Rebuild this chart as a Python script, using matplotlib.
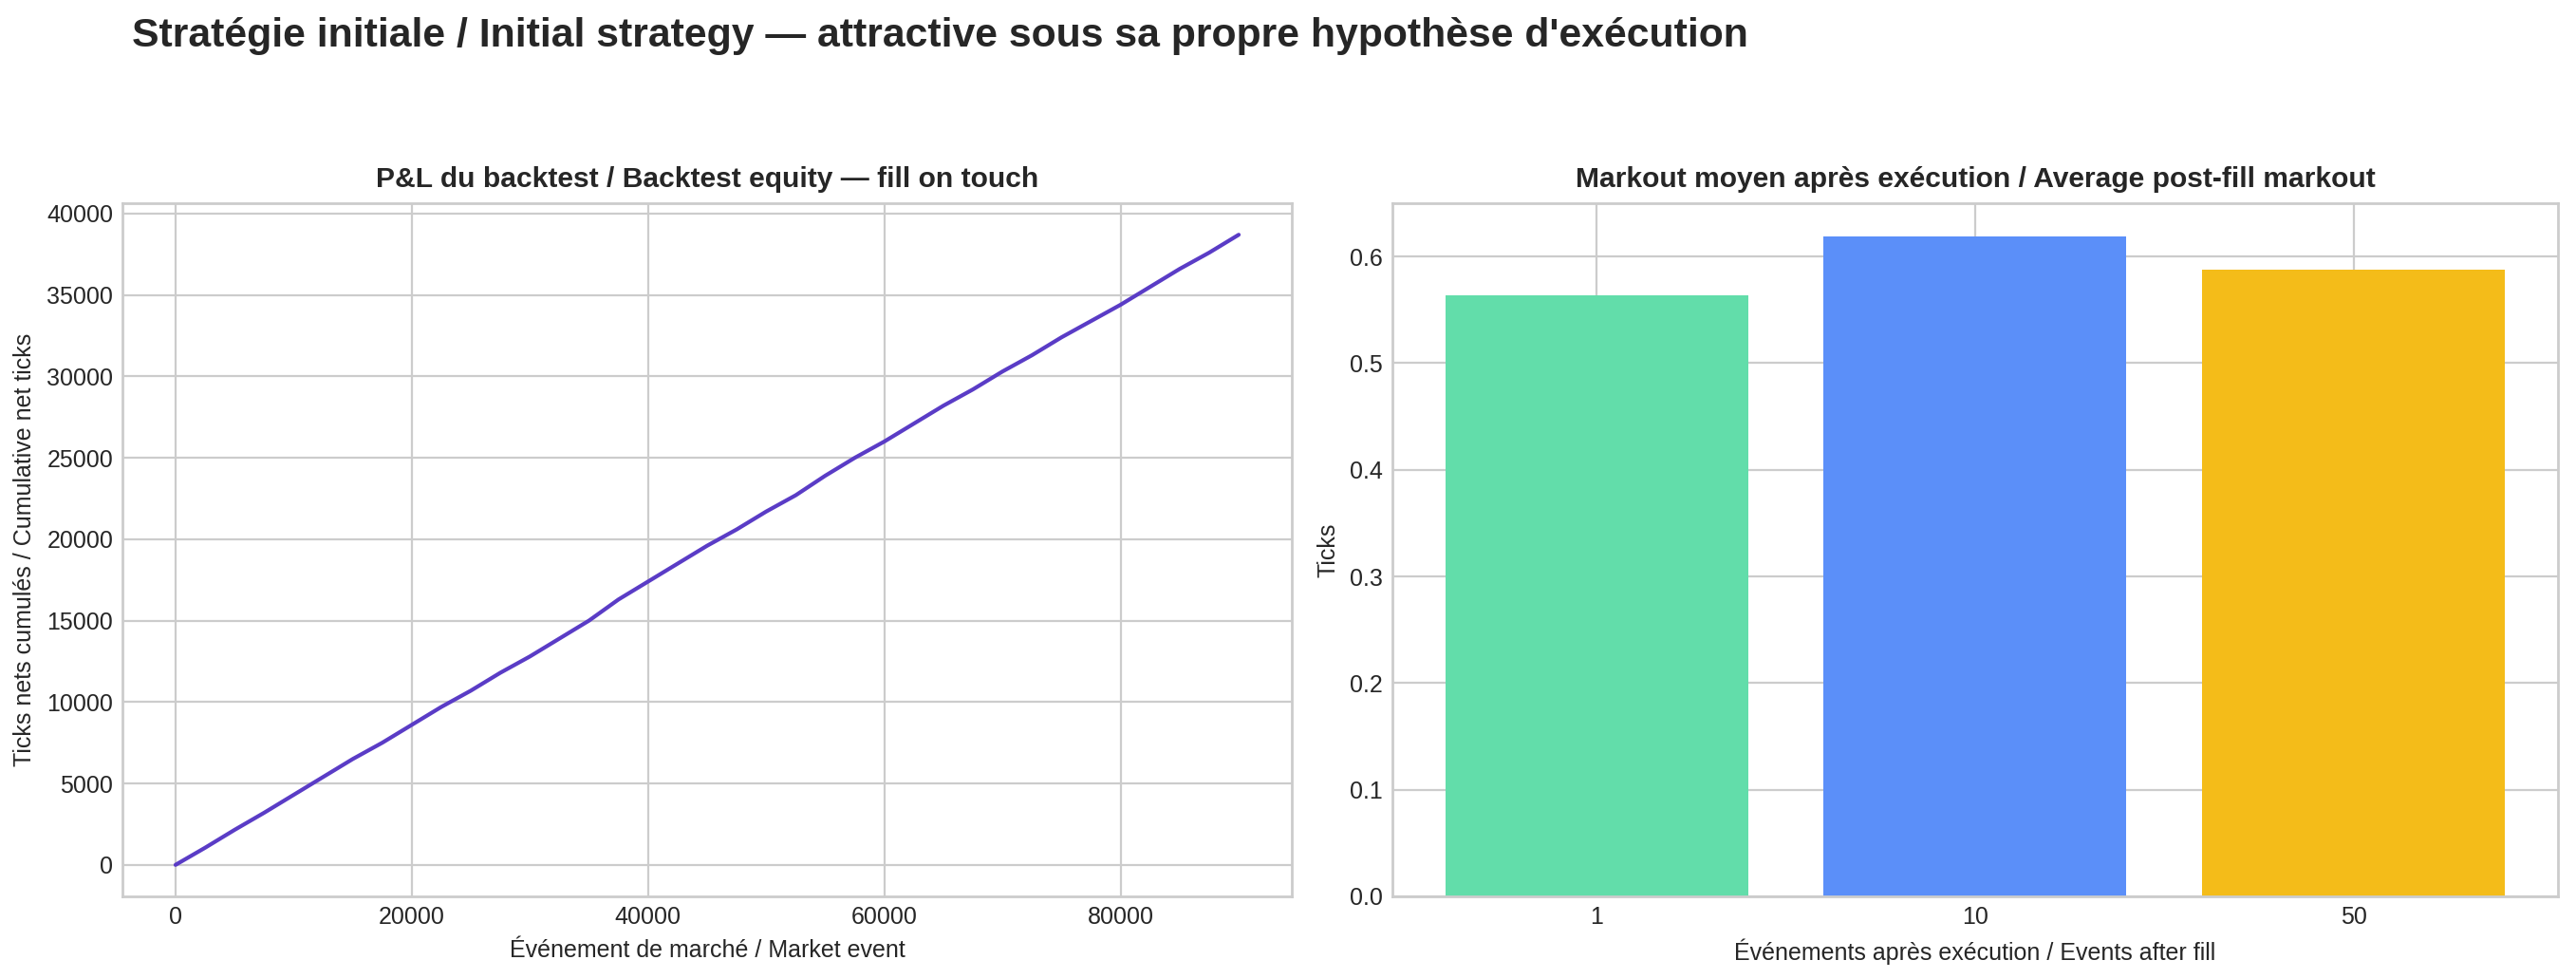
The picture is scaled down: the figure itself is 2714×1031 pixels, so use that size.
import matplotlib
matplotlib.use("Agg")
import matplotlib.pyplot as plt

plt.style.use("seaborn-v0_8-whitegrid")
plt.rcParams["font.family"] = ["Liberation Sans", "DejaVu Sans"]

# Backtest equity, every 2500 events
events = [0, 2500, 5000, 7500, 10000, 12500, 15000, 17500, 20000, 22500,
          25000, 27500, 30000, 32500, 35000, 37500, 40000, 42500, 45000,
          47500, 50000, 52500, 55000, 57500, 60000, 62500, 65000, 67500,
          70000, 72500, 75000, 77500, 80000, 82500, 85000, 87500, 90000]
cum_ticks = [0, 1050, 2150, 3200, 4300, 5400, 6500, 7500, 8600, 9700,
             10700, 11800, 12800, 13900, 15000, 16300, 17400, 18500, 19600,
             20600, 21700, 22700, 23900, 25000, 26000, 27100, 28200, 29200,
             30300, 31300, 32400, 33400, 34400, 35500, 36600, 37600, 38700]

# Markout per horizon
horizons = ["1", "10", "50"]
markout = [0.564, 0.619, 0.588]
bar_colors = ["#62DDAA", "#5B8FF9", "#F4BC19"]

fig = plt.figure(figsize=(13.57, 5.155), dpi=200)
ax1 = fig.add_axes([0.0475, 0.0844, 0.454, 0.708])
ax2 = fig.add_axes([0.5405, 0.0844, 0.4525, 0.708])

fig.text(0.0512, 0.952, "Stratégie initiale / Initial strategy — attractive sous sa propre hypothèse d'exécution",
         fontsize=15.4, fontweight="bold", color="#262626", ha="left", va="baseline")

ax1.plot(events, cum_ticks, color="#5A3CC6", linewidth=1.5)
ax1.set_title("P&L du backtest / Backtest equity — fill on touch", fontsize=10.8, fontweight="bold")
ax1.set_xlabel("Événement de marché / Market event", fontsize=9)
ax1.set_ylabel("Ticks nets cumulés / Cumulative net ticks", fontsize=9)
ax1.tick_params(labelsize=9)

ax2.bar(horizons, markout, color=bar_colors)
ax2.set_title("Markout moyen après exécution / Average post-fill markout", fontsize=10.8, fontweight="bold")
ax2.set_xlabel("Événements après exécution / Events after fill", fontsize=9)
ax2.set_ylabel("Ticks", fontsize=9)
ax2.tick_params(labelsize=9)

for ax in (ax1, ax2):
    for s in ax.spines.values():
        s.set_visible(True)
        s.set_color("#cccccc")

fig.savefig("out.png", dpi=200)
